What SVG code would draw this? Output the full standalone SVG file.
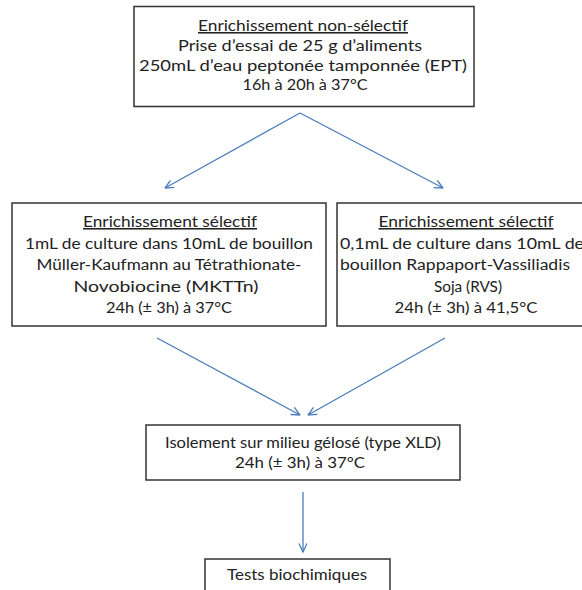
<svg xmlns="http://www.w3.org/2000/svg" width="582" height="590" viewBox="0 0 582 590">
  <defs>
    <style>
      .box { fill: #ffffff; stroke: #333333; stroke-width: 1.5; }
      .t { font-family: Lato, "Open Sans", "Liberation Sans", sans-serif; font-size: 15.5px; fill: #222222; text-anchor: middle; }
      .s { text-anchor: start; }
      .u { text-decoration: underline; }
      .c { stroke: #4a7ebb; stroke-width: 1.3; fill: none; marker-end: url(#arr); }
    </style>
    <marker id="arr" viewBox="0 0 10 10" refX="9.5" refY="5" markerWidth="10" markerHeight="10" markerUnits="userSpaceOnUse" orient="auto">
      <path d="M1,1 L9.5,5 L1,9" fill="none" stroke="#4a7ebb" stroke-width="1.3"/>
    </marker>
  </defs>
  <rect x="0" y="0" width="582" height="590" fill="#ffffff"/>

  <g id="connectors">
    <line class="c" x1="300" y1="113" x2="165" y2="188"/>
    <line class="c" x1="300" y1="113" x2="443" y2="188"/>
    <line class="c" x1="157" y1="338" x2="300" y2="415"/>
    <line class="c" x1="445" y1="338" x2="308" y2="415"/>
    <line class="c" x1="303" y1="492" x2="303" y2="552"/>
  </g>

  <g id="node-enrichissement-non-selectif">
    <rect class="box" x="134" y="6.5" width="340" height="100"/>
    <text class="t u" x="303" y="31" textLength="210" lengthAdjust="spacingAndGlyphs">Enrichissement non-sélectif</text>
    <text class="t" x="300" y="51" textLength="244" lengthAdjust="spacingAndGlyphs">Prise d’essai de 25 g d’aliments</text>
    <text class="t" x="303" y="70.5" textLength="328" lengthAdjust="spacingAndGlyphs">250mL d’eau peptonée tamponnée (EPT)</text>
    <text class="t" x="305" y="90" textLength="125" lengthAdjust="spacingAndGlyphs">16h à 20h à 37°C</text>
  </g>

  <g id="node-enrichissement-selectif-mkttn">
    <rect class="box" x="12" y="203" width="314" height="123"/>
    <text class="t u" x="170" y="227" textLength="174" lengthAdjust="spacingAndGlyphs">Enrichissement sélectif</text>
    <text class="t" x="169" y="248.5" textLength="288" lengthAdjust="spacingAndGlyphs">1mL de culture dans 10mL de bouillon</text>
    <text class="t" x="169" y="270" textLength="265" lengthAdjust="spacingAndGlyphs">Müller-Kaufmann au Tétrathionate-</text>
    <text class="t" x="166" y="291.5" textLength="185" lengthAdjust="spacingAndGlyphs">Novobiocine (MKTTn)</text>
    <text class="t" x="169" y="313" textLength="126" lengthAdjust="spacingAndGlyphs">24h (± 3h) à 37°C</text>
  </g>

  <g id="node-enrichissement-selectif-rvs">
    <rect class="box" x="337" y="203" width="270" height="123"/>
    <text class="t u" x="466" y="227" textLength="175" lengthAdjust="spacingAndGlyphs">Enrichissement sélectif</text>
    <text class="t s" x="340" y="248.5" textLength="244" lengthAdjust="spacingAndGlyphs">0,1mL de culture dans 10mL de</text>
    <text class="t s" x="340" y="270" textLength="230" lengthAdjust="spacingAndGlyphs">bouillon Rappaport-Vassiliadis</text>
    <text class="t" x="468" y="291.5" textLength="68" lengthAdjust="spacingAndGlyphs">Soja (RVS)</text>
    <text class="t" x="466" y="313" textLength="143" lengthAdjust="spacingAndGlyphs">24h (± 3h) à 41,5°C</text>
  </g>

  <g id="node-isolement">
    <rect class="box" x="146" y="425" width="314" height="55"/>
    <text class="t" x="303" y="448" textLength="276" lengthAdjust="spacingAndGlyphs">Isolement sur milieu gélosé (type XLD)</text>
    <text class="t" x="300" y="468" textLength="130" lengthAdjust="spacingAndGlyphs">24h (± 3h) à 37°C</text>
  </g>

  <g id="node-tests-biochimiques">
    <rect class="box" x="205" y="559" width="185" height="40"/>
    <text class="t" x="297" y="580" textLength="140" lengthAdjust="spacingAndGlyphs">Tests biochimiques</text>
  </g>
</svg>
